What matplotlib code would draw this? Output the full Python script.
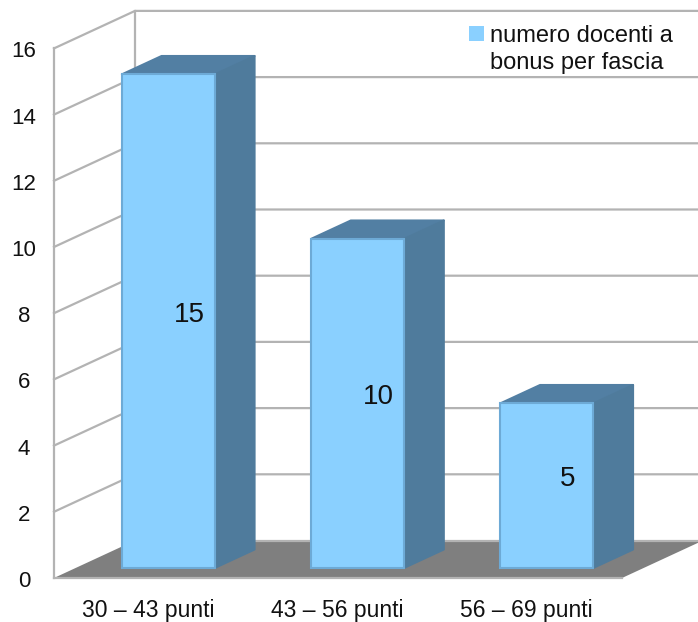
import matplotlib
matplotlib.use('Agg')
import matplotlib.pyplot as plt
from matplotlib.patches import Polygon, Rectangle

plt.rcParams['font.family'] = ['Liberation Sans', 'DejaVu Sans']

# Data
categorie = ['30 – 43 punti', '43 – 56 punti', '56 – 69 punti']
docenti = [15, 10, 5]
y_ticks = [0, 2, 4, 6, 8, 10, 12, 14, 16]
legend_label = 'numero docenti a\nbonus per fascia'

# Colours
bar_front = '#8AD0FF'
bar_edge = '#6DAAD6'
bar_top = '#527FA3'
bar_side = '#4F7B9C'
floor_col = '#7F7F7F'
grid_col = '#B3B3B3'

# Scale of the picture: pixels per category and per unit on the y axis
W, H = 698, 622
px_x = 189.25
px_y = 33.1
x0_px = 146.5     # category 0 at the front plane
y0_px = 578       # value 0 at the front plane
depth_x = 81 / px_x    # shift between front and back wall, in data units
depth_y = 37.5 / px_y
bar_width = 93 / px_x
bar_d0 = 0.27     # bars start and end at these depths
bar_d1 = 0.76
bar_scale = 32.9 / px_y   # bars are a little shorter, they stand further back

wall_left = (54 - x0_px) / px_x
wall_right = (622 - x0_px) / px_x
y_top = max(y_ticks)


def proj(x, v, d):
    # oblique projection: d=0 is the front plane, d=1 the back wall
    return x + d * depth_x, v + d * depth_y


fig = plt.figure(figsize=(W / 100, H / 100), dpi=100)
ax = fig.add_axes([0, 0, 1, 1])
ax.set_xlim(-x0_px / px_x, (W - x0_px) / px_x)
ax.set_ylim((y0_px - H) / px_y, y0_px / px_y)
ax.axis('off')

# Floor
floor = [proj(wall_left, 0, 0), proj(wall_left, 0, 1),
         proj(wall_right, 0, 1), proj(wall_right, 0, 0)]
ax.add_patch(Polygon(floor, closed=True, fc=floor_col, ec='none', zorder=1))

# Grid on the left wall and on the back wall
for v in y_ticks:
    a = proj(wall_left, v, 0)
    b = proj(wall_left, v, 1)
    c = proj(wall_right + 1, v, 1)
    lw = 1.6
    if v == 0:
        ax.plot([a[0], proj(wall_right, 0, 0)[0]], [a[1], a[1]], color=grid_col, lw=lw, zorder=2)
        ax.plot([b[0], c[0]], [b[1], c[1]], color=grid_col, lw=lw, zorder=2)
    else:
        ax.plot([a[0], b[0], c[0]], [a[1], b[1], c[1]], color=grid_col, lw=lw, zorder=2)
ax.plot([wall_left, wall_left], [0, y_top], color=grid_col, lw=1.6, zorder=2)
bx = proj(wall_left, 0, 1)[0]
ax.plot([bx, bx], [proj(0, 0, 1)[1], proj(0, y_top, 1)[1]], color=grid_col, lw=1.6, zorder=2)

# Y tick labels
for v in y_ticks:
    ax.text((24 - x0_px) / px_x, v - 3.5 / px_y, str(v), ha='center', va='center',
            fontsize=16, color='#111111', zorder=6)

# Bars: front face is a normal bar, top and side come from the same values
xs = list(range(len(categorie)))
for x, v in zip(xs, docenti):
    h = v * bar_scale
    xl = x - bar_width / 2
    xr = x + bar_width / 2
    top = [proj(xl, h, bar_d0), proj(xl, h, bar_d1), proj(xr, h, bar_d1), proj(xr, h, bar_d0)]
    side = [proj(xr, 0, bar_d0), proj(xr, 0, bar_d1), proj(xr, h, bar_d1), proj(xr, h, bar_d0)]
    ax.add_patch(Polygon(top, closed=True, fc=bar_top, ec=bar_top, lw=1.5, joinstyle='round', zorder=3))
    ax.add_patch(Polygon(side, closed=True, fc=bar_side, ec=bar_side, lw=1.5, joinstyle='round', zorder=3))

front_x = [proj(x, 0, bar_d0)[0] for x in xs]
front_y = proj(0, 0, bar_d0)[1]
ax.bar(front_x, [v * bar_scale for v in docenti], width=bar_width, bottom=front_y, color=bar_front,
       edgecolor=bar_edge, linewidth=1.5, zorder=4)

# Value labels sit in the middle of the bar, pushed back in depth
for x, v in zip(xs, docenti):
    lx, ly = proj(x, v * bar_scale / 2, 0.53)
    ax.text(lx, ly - 3.5 / px_y, str(v), ha='center', va='center', fontsize=20, color='#111111', zorder=6)

# Category labels
for x, c in zip(xs, categorie):
    ax.text(x + 1.5 / px_x, (y0_px - 610.5) / px_y, c, ha='center', va='center', fontsize=16.5, color='#111111', zorder=6)

# Legend
ax.add_patch(Rectangle(((469 - x0_px) / px_x, (y0_px - 41) / px_y), 15 / px_x, 15 / px_y,
                       fc=bar_front, ec='none', zorder=6))
ax.text((490 - x0_px) / px_x, (y0_px - 49.5) / px_y, legend_label, ha='left', va='center',
        fontsize=17, linespacing=1.3, color='#111111', zorder=6)

fig.savefig('out.png', dpi=100)
